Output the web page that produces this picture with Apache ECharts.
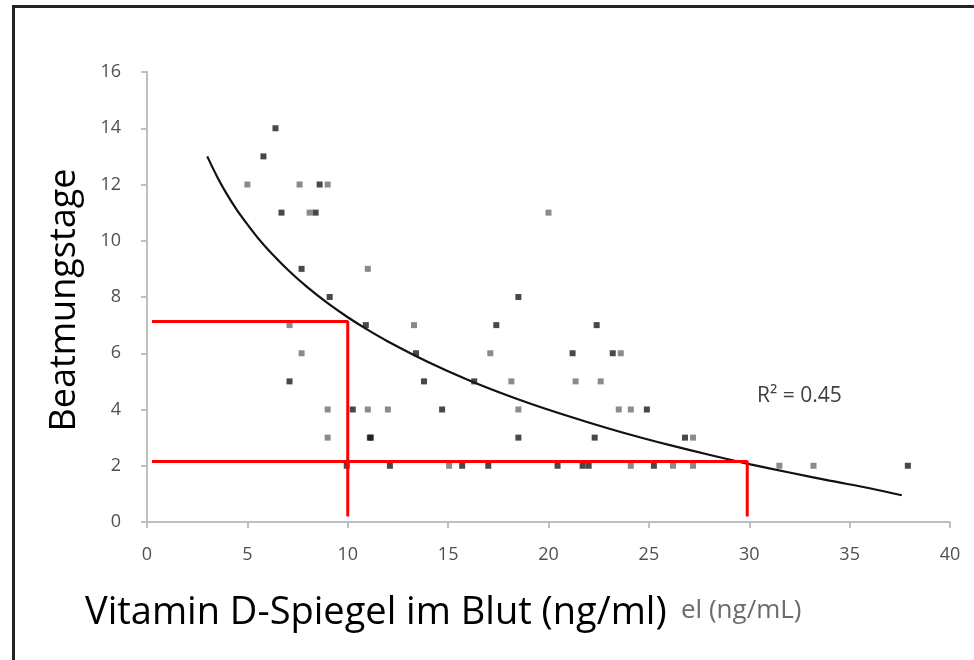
<!DOCTYPE html>
<html>
<head>
<meta charset="utf-8">
<script src="https://cdn.jsdelivr.net/npm/echarts@6/dist/echarts.min.js"></script>
<style>html,body{margin:0;padding:0;background:#fff;}#c{width:974px;height:660px;}</style>
</head>
<body>
<div id="c"></div>
<script>
// Scatter points (Vitamin D ng/ml, ventilation days) — darker rendered dots
var darkPoints = [
  [6.4,14],[5.8,13],[8.6,12],[6.7,11],[8.4,11],[7.7,9],[9.1,8],
  [7.1,5],[10.25,4],[11.1,3],[9.95,2],[10.9,7],
  [18.5,8],[17.4,7],[13.4,6],[21.2,6],[13.8,5],[16.3,5],[14.7,4],
  [11.15,3],[18.5,3],[12.1,2],[15.7,2],[17.0,2],[20.45,2],[21.7,2],[22.0,2],
  [24.9,4],[22.3,3],[26.8,3],[25.25,2],[37.9,2],[22.4,7],[23.2,6]
];
// lighter (grey) rendered dots
var lightPoints = [
  [5.0,12],[7.6,12],[9.0,12],[8.1,11],[11.0,9],
  [7.1,7],[7.7,6],[9.0,4],[11.0,4],[9.0,3],
  [20.0,11],[13.3,7],[17.1,6],[18.15,5],[21.35,5],[12.0,4],[18.5,4],
  [15.05,2],[22.6,5],[23.5,4],[24.1,4],[27.2,3],[24.1,2],[26.2,2],[27.2,2],
  [31.5,2],[33.2,2],[23.6,6]
];
// Trend curve
var trendX = [3, 3.5, 4, 4.5, 5, 5.5, 6, 7, 8, 9, 10, 11, 12, 14, 16, 18, 20, 22, 24, 26, 28, 30, 32, 34, 36, 37.6];
var trendY = [13.0, 12.27, 11.63, 11.07, 10.58, 10.12, 9.71, 8.98, 8.34, 7.78, 7.28, 6.83, 6.42, 5.69, 5.05, 4.49, 3.99, 3.54, 3.12, 2.74, 2.39, 2.06, 1.76, 1.47, 1.20, 0.95];
// Red guide lines
var guideA = [[0.25,7.13],[10.0,7.13],[10.0,0.2]];
var guideB = [[0.25,2.15],[29.9,2.15],[29.9,0.2]];
// Axis ticks
var xTicks = {min:0, max:40, interval:5};
var yTicks = {min:0, max:16, interval:2};
var yTitle = 'Beatmungstage';
var xTitle = 'Vitamin D-Spiegel im Blut (ng/ml)';
var xTitleRest = 'el (ng/mL)';
var r2Label = 'R\u00B2 = 0.45';

var trend = trendX.map(function(x,i){return [x, trendY[i]];});
var tickFont = "'Open Sans','Noto Sans',sans-serif";
var titleFont = "'Open Sans','Noto Sans',sans-serif";

var chart = echarts.init(document.getElementById('c'), null, {renderer:'canvas'});
chart.setOption({
  animation:false,
  backgroundColor:'#fff',
  grid:{left:147, right:24, top:72, bottom:138, containLabel:false},
  xAxis:{
    type:'value', min:xTicks.min, max:xTicks.max, interval:xTicks.interval,
    splitLine:{show:false},
    axisLine:{show:true, onZero:false, lineStyle:{color:'#bfbfbf', width:2}},
    axisTick:{show:true, length:6, lineStyle:{color:'#bfbfbf', width:2}},
    axisLabel:{color:'#505050', fontSize:18, margin:24, fontFamily:tickFont}
  },
  yAxis:{
    type:'value', min:yTicks.min, max:yTicks.max, interval:yTicks.interval,
    splitLine:{show:false},
    axisLine:{show:true, onZero:false, lineStyle:{color:'#bfbfbf', width:2}},
    axisTick:{show:true, length:6, lineStyle:{color:'#bfbfbf', width:2}},
    axisLabel:{color:'#505050', fontSize:18, margin:26, fontFamily:tickFont}
  },
  series:[
    {type:'line', data:trend, smooth:0.3, symbol:'none', lineStyle:{color:'#111', width:2.2}, z:3},
    {type:'scatter', data:lightPoints, symbol:'rect', symbolSize:6, itemStyle:{color:'#6e6e6e'}, z:4},
    {type:'scatter', data:darkPoints, symbol:'rect', symbolSize:6, itemStyle:{color:'#1a1a1a'}, z:4},
    {type:'line', data:guideA, symbol:'none', lineStyle:{color:'#ff0000', width:3}, z:5},
    {type:'line', data:guideB, symbol:'none', lineStyle:{color:'#ff0000', width:3}, z:5}
  ],
  graphic:[
    {type:'line', shape:{x1:12, y1:6.5, x2:974, y2:6.5}, style:{stroke:'#222', lineWidth:3}},
    {type:'line', shape:{x1:13.5, y1:5, x2:13.5, y2:660}, style:{stroke:'#222', lineWidth:3}},
    {type:'text', x:757, y:396, style:{text:r2Label, fill:'#404040', font:"21px 'Open Sans',sans-serif", textAlign:'left', textVerticalAlign:'middle'}},
    {type:'text', x:65, y:300, rotation:Math.PI/2, style:{text:yTitle, fill:'#000', font:"36px "+titleFont, textAlign:'center', textVerticalAlign:'middle'}},
    {type:'text', x:85, y:613, style:{text:xTitle, fill:'#000', font:"38px "+titleFont, textAlign:'left', textVerticalAlign:'middle'}},
    {type:'text', x:681, y:611, style:{text:xTitleRest, fill:'#6b6b6b', font:"26px "+titleFont, textAlign:'left', textVerticalAlign:'middle'}}
  ]
});
</script>
</body>
</html>
